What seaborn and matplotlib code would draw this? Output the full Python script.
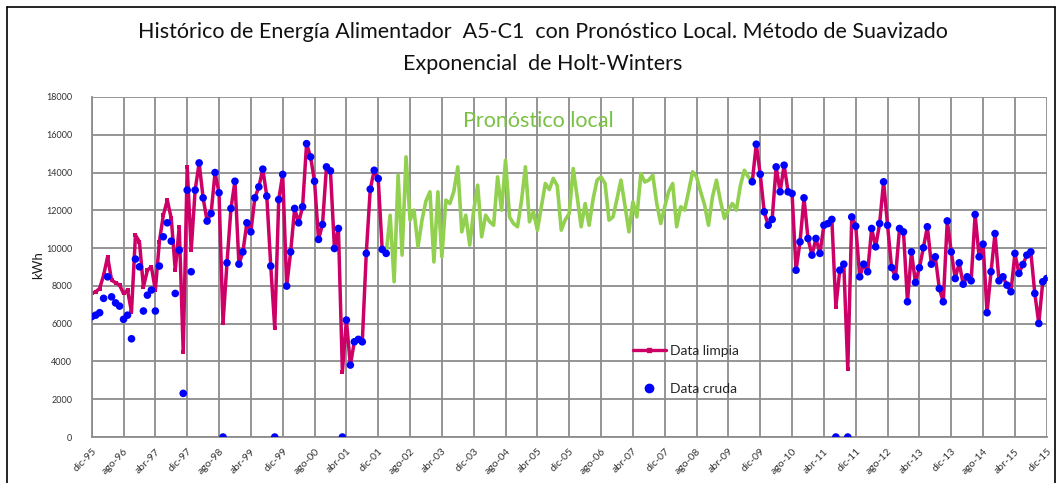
import numpy as np
import pandas as pd
import seaborn as sns
import matplotlib.pyplot as plt
from matplotlib.lines import Line2D

# etiquetas del eje x (cada 8 meses, dic-95 .. dic-15)
tick_labels = ['dic-95', 'ago-96', 'abr-97', 'dic-97', 'ago-98', 'abr-99', 'dic-99',
               'ago-00', 'abr-01', 'dic-01', 'ago-02', 'abr-03', 'dic-03', 'ago-04',
               'abr-05', 'dic-05', 'ago-06', 'abr-07', 'dic-07', 'ago-08', 'abr-09',
               'dic-09', 'ago-10', 'abr-11', 'dic-11', 'ago-12', 'abr-13', 'dic-13',
               'ago-14', 'abr-15', 'dic-15']

# dic-95 .. feb-02 (mes 0 .. 74)
limpia_1 = [7600, 7690, 7860, 8570, 9540, 8300, 8170, 8040, 7600, 7780,
            6630, 10690, 10330, 7950, 8830, 9010, 7780, 10330, 11740, 12540,
            11570, 8830, 11130, 4510, 14300, 9890, 13070, 14510, 12660, 11430,
            11830, 14000, 12930, 6010, 9220, 12100, 13540, 9150, 9800, 11340,
            10860, 12660, 13240, 14180, 12750, 9050, 5750, 12570, 13900, 7990,
            9800, 12100, 11340, 12190, 15530, 14830, 13540, 10460, 11250, 14300,
            14090, 9980, 11040, 3460, 6190, 3810, 5040, 5170, 5040, 9720,
            13120, 14120, 13680, 9930, 9720]
cruda_1 = [6370, 6450, 6580, 7340, 8480, 7420, 7100, 6930, 6230, 6450,
           5200, 9420, 9010, 6670, 7510, 7780, 6670, 9050, 10600, 11340,
           10370, 7600, 9890, 2310, 13070, 8750, 13070, 14510, 12660, 11430,
           11830, 14000, 12930, 0, 9220, 12100, 13540, 9150, 9800, 11340,
           10860, 12660, 13240, 14180, 12750, 9050, 0, 12570, 13900, 7990,
           9800, 12100, 11340, 12190, 15530, 14830, 13540, 10460, 11250, 14300,
           14090, 9980, 11040, 0, 6190, 3810, 5040, 5170, 5040, 9720,
           13120, 14120, 13680, 9930, 9720]

# pronostico Holt-Winters (mes 74 .. 166)
pronostico = [9720, 11740, 8220, 13860, 9630, 14830, 11480, 12010, 10070, 11480,
              12500, 12980, 9270, 12980, 9540, 12540, 12360, 13000, 14300, 10860,
              11740, 10160, 12000, 13330, 10600, 11740, 11400, 11210, 13770, 12010,
              14650, 11650, 11300, 11130, 12500, 14300, 11390, 11920, 10950, 12200,
              13420, 13100, 13690, 13300, 10950, 11500, 11830, 14210, 12710, 11130,
              12360, 11210, 12600, 13600, 13770, 13420, 11480, 11650, 12600, 13600,
              12270, 10860, 12450, 11650, 13950, 13500, 13600, 13860, 12360, 11300,
              12190, 13000, 13420, 11130, 12190, 12010, 13000, 14040, 13770, 13000,
              12300, 11210, 12710, 13600, 12500, 11570, 12000, 12360, 12010, 13300,
              14120, 13770, 13510]

# oct-09 .. dic-15 (mes 166 .. 240)
limpia_2 = [13510, 15500, 13910, 11920, 11210, 11520, 14300, 12980, 14390, 12980,
            12890, 8830, 10330, 12660, 10510, 9630, 10510, 9720, 11210, 11300,
            11520, 6900, 8830, 9150, 3580, 11650, 11160, 8480, 9150, 8750,
            11040, 10070, 11300, 13510, 11210, 8970, 8480, 11040, 10860, 7160,
            9800, 8180, 8960, 10020, 11130, 9150, 9540, 7860, 7160, 11440,
            9800, 8390, 9220, 8090, 8480, 8270, 11780, 9540, 10210, 6580,
            8750, 10770, 8270, 8480, 8040, 7690, 9720, 8660, 9130, 9630,
            9800, 7600, 6010, 8220, 8390]
cruda_2 = [13510, 15500, 13910, 11920, 11210, 11520, 14300, 12980, 14390, 12980,
           12890, 8830, 10330, 12660, 10510, 9630, 10510, 9720, 11210, 11300,
           11520, 0, 8830, 9150, 0, 11650, 11160, 8480, 9150, 8750,
           11040, 10070, 11300, 13510, 11210, 8970, 8480, 11040, 10860, 7160,
           9800, 8180, 8960, 10020, 11130, 9150, 9540, 7860, 7160, 11440,
           9800, 8390, 9220, 8090, 8480, 8270, 11780, 9540, 10210, 6580,
           8750, 10770, 8270, 8480, 8040, 7690, 9720, 8660, 9130, 9630,
           9800, 7600, 6010, 8220, 8390]

inicio_pron = 74
inicio_2 = 166

df1 = pd.DataFrame({'mes': np.arange(len(limpia_1)), 'limpia': limpia_1, 'cruda': cruda_1})
df2 = pd.DataFrame({'mes': np.arange(len(limpia_2)) + inicio_2, 'limpia': limpia_2, 'cruda': cruda_2})
dfp = pd.DataFrame({'mes': np.arange(len(pronostico)) + inicio_pron, 'kwh': pronostico})

sns.set_style('white')
plt.rcParams['font.family'] = ['Lato', 'DejaVu Sans']

magenta = '#CC0066'
azul = '#0000FF'
verde = '#92D050'

fig = plt.figure(figsize=(10.6, 4.83), dpi=100)
ax = fig.add_axes([0.0865, 0.0952, 0.901, 0.704])

sns.lineplot(data=dfp, x='mes', y='kwh', color=verde, lw=2.6, ax=ax)
for d in (df1, df2):
    sns.lineplot(data=d, x='mes', y='limpia', color=magenta, lw=2.5,
                 marker='s', markersize=2.5, markeredgewidth=0, ax=ax)
    sns.scatterplot(data=d, x='mes', y='cruda', color=azul, s=30,
                    edgecolor='none', zorder=5, ax=ax)

ax.set_xlim(0, 240)
ax.set_ylim(0, 18000)
ax.set_xticks(np.arange(0, 241, 8))
ax.set_xticklabels(tick_labels, rotation=45, ha='right', rotation_mode='anchor',
                   fontsize=7.5, color='#333333')
ax.set_yticks(np.arange(0, 18001, 2000))
ax.set_yticklabels([str(v) for v in range(0, 18001, 2000)], fontsize=6.5, color='#333333')
ax.tick_params(axis='both', length=4, width=1.2, color='#8c8c8c', direction='out')
ax.tick_params(axis='y', pad=10)
ax.tick_params(axis='x', pad=3)
ax.grid(True, color='#8c8c8c', lw=1.3)
ax.set_axisbelow(True)
for s in ('top', 'right'):
    ax.spines[s].set_visible(False)
for s in ('left', 'bottom'):
    ax.spines[s].set_color('#8c8c8c')
    ax.spines[s].set_linewidth(1.3)
ax.set_xlabel('')
ax.set_ylabel('')

fig.text(38 / 1060, 1 - 265 / 483, 'kWh', rotation=90, ha='center', va='center',
         fontsize=9.5, color='#1a1a1a')

fig.text(0.512, 1 - 32 / 483,
         'Histórico de Energía Alimentador  A5-C1  con Pronóstico Local. Método de Suavizado',
         ha='center', va='center', fontsize=15.5, color='#111111')
fig.text(0.512, 1 - 64 / 483, 'Exponencial  de Holt-Winters',
         ha='center', va='center', fontsize=15.5, color='#111111')

fig.text(538 / 1060, 1 - 121 / 483, 'Pronóstico local', ha='center', va='center',
         fontsize=15.5, color='#79C143')

handles = [Line2D([], [], color=magenta, lw=2.4, marker='s', markersize=2.5),
           Line2D([], [], color=azul, lw=0, marker='o', markersize=6)]
ax.legend(handles, ['Data limpia', 'Data cruda'], loc='upper left',
          bbox_to_anchor=(620 / 1060, 1 - 332 / 483), bbox_transform=fig.transFigure,
          frameon=False, fontsize=10, labelspacing=1.9, handlelength=2.4,
          handletextpad=0.3)

# marco exterior
for xs, ys in (([7, 7], [0, 476]), ([7, 1055], [476, 476]), ([1055, 1055], [476, 0])):
    fig.add_artist(Line2D([x / 1060 for x in xs], [y / 483 for y in ys],
                          color='black', lw=1.2, transform=fig.transFigure))

fig.savefig('out.png', dpi=100)
